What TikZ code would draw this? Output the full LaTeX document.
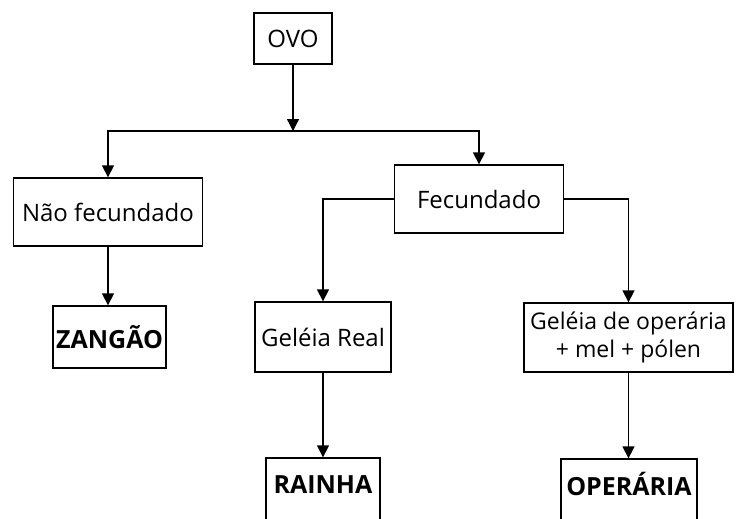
\documentclass[tikz,border=0pt]{standalone}
\usepackage{fontspec}
\setmainfont{Open Sans}
\usetikzlibrary{arrows.meta,positioning}
\tikzset{
  box/.style={draw=black, line width=1.3pt, fill=white, inner sep=0pt, align=center,
    font=\fontsize{24}{29}\selectfont},
  boldbox/.style={box, font=\fontsize{25}{30}\selectfont\bfseries},
  conn/.style={line width=1.3pt, draw=black},
  arr/.style={conn, -{Triangle[width=12pt,length=12pt]}},
}
\begin{document}
\begin{tikzpicture}[x=1pt,y=-1pt]
  \fill[white] (0,0) rectangle (736,519);
  \clip (0,0) rectangle (736,519);
  % nodes
  \node[box, minimum width=78pt, minimum height=51pt] (ovo) at (293,38.5) {OVO};
  \node[box, minimum width=189pt, minimum height=68pt] (nf) at (108,212) {Não fecundado};
  \node[boldbox, minimum width=113pt, minimum height=62pt] (zan) at (109.5,337) {ZANGÃO};
  \node[box, minimum width=169pt, minimum height=68pt] (fec) at (479,199) {Fecundado};
  \node[box, minimum width=136pt, minimum height=70pt] (gr) at (323,337) {Geléia Real};
  \node[box, minimum width=209pt, minimum height=69pt, font=\fontsize{23}{28}\selectfont] (go) at (628.5,337.5) {Geléia de operária\\+ mel + pólen};
  \node[boldbox, anchor=base, minimum width=114pt, text height=35pt, text depth=40pt] (rai) at (323,493) {RAINHA};
  \node[boldbox, anchor=base, minimum width=136pt, text height=36pt, text depth=40pt] (ope) at (629,495) {OPERÁRIA};
  % connectors
  \coordinate (split) at (293,131);
  \draw[arr] (ovo.south) -- (split);
  \draw[arr] (split) -| (nf.north);
  \draw[arr] (split) -| (fec.north);
  \draw[arr] (nf.south) -- (nf.south |- zan.north);
  \draw[arr] (fec.west) -| (gr.north);
  \draw[arr] (fec.east) -| (go.north);
  \draw[arr] (gr.south) -- (rai.north);
  \draw[arr] (go.south) -- (go.south |- ope.north);
\end{tikzpicture}
\end{document}
